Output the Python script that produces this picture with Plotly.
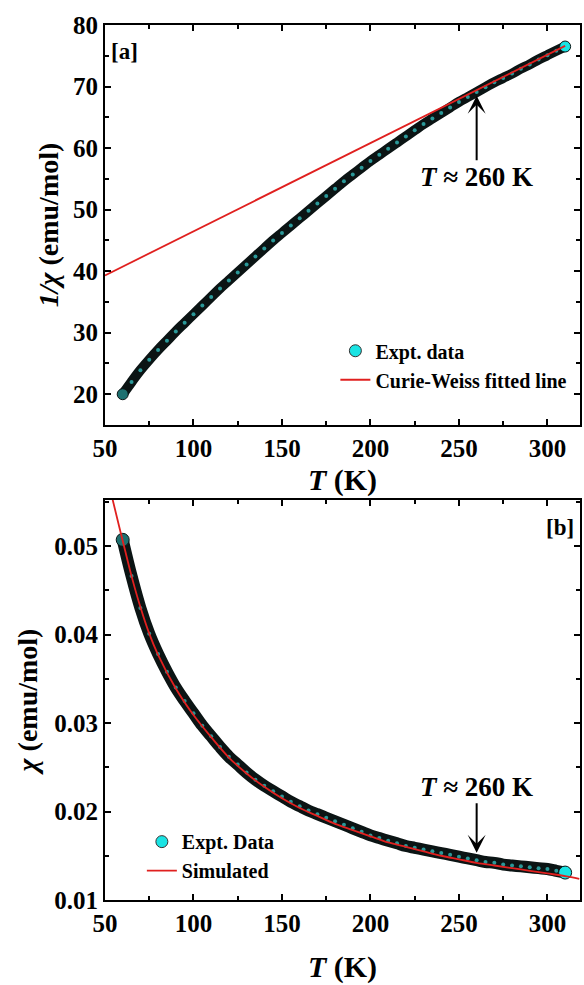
import plotly.graph_objects as go

# ---------------- data ----------------
T_expt = [60, 65, 70, 75, 80, 85, 90, 95, 100, 105, 110, 115, 120, 125, 130, 135, 140, 145,
          150, 155, 160, 165, 170, 175, 180, 185, 190, 195, 200, 205, 210, 215, 220, 225,
          230, 235, 240, 245, 250, 255, 260, 265, 270, 275, 280, 285, 290, 295, 300, 305, 310]

inv_chi_expt = [20.0, 22.0, 23.9, 25.6, 27.2, 28.7, 30.2, 31.6, 33.0, 34.4, 35.8, 37.2, 38.5,
                39.8, 41.1, 42.4, 43.7, 45.0, 46.2, 47.4, 48.6, 49.8, 51.0, 52.2, 53.4, 54.6,
                55.7, 56.8, 57.9, 58.9, 59.9, 60.9, 61.9, 62.9, 63.9, 64.8, 65.7, 66.6, 67.5,
                68.3, 69.1, 69.9, 70.7, 71.4, 72.1, 72.9, 73.6, 74.4, 75.1, 75.8, 76.5]

chi_expt = [0.0507, 0.0466, 0.0430, 0.0401, 0.0378, 0.0358, 0.0340, 0.0325, 0.0311, 0.0297,
            0.0285, 0.0273, 0.0262, 0.0253, 0.0244, 0.0236, 0.0229, 0.0223, 0.0217, 0.0211,
            0.0206, 0.0201, 0.0197, 0.0193, 0.0189, 0.0185, 0.0181, 0.0177, 0.0173, 0.0170,
            0.0167, 0.0164, 0.0161, 0.0159, 0.0157, 0.0155, 0.0153, 0.0151, 0.0149, 0.0147,
            0.0145, 0.0143, 0.0142, 0.0140, 0.0139, 0.0138, 0.0137, 0.0136, 0.0135, 0.0133,
            0.0131]

T_cw_fit = [50, 310]
inv_chi_cw_fit = [39.3, 76.6]

T_sim = [54, 58, 60, 65, 70, 75, 80, 90, 100, 110, 120, 130, 140, 150, 160, 170, 180, 190,
         200, 210, 220, 230, 240, 250, 260, 270, 280, 290, 300, 310, 318]
chi_sim = [0.0555, 0.0522, 0.0506, 0.0466, 0.0431, 0.0401, 0.0377, 0.0339, 0.0309, 0.0284,
           0.0261, 0.0243, 0.0228, 0.0215, 0.0204, 0.0195, 0.0186, 0.0179, 0.0172, 0.0165,
           0.0160, 0.0155, 0.0150, 0.0146, 0.0142, 0.0139, 0.0136, 0.0133, 0.0130, 0.0127,
           0.0124]

T_transition = 260
inv_chi_at_arrow = 68.5
chi_at_arrow = 0.01534

x_range = [50, 318.4]
y1_range = [15, 80]
y2_range = [0.01, 0.0552]

# ---------------- styling ----------------
FONT = "Liberation Serif"
BAND = "#0b1414"
SPECK = "#2a9898"
CYAN = "#1ae3e3"
RED = "#e0201f"

fig = go.Figure()

def add_expt(x, y, xa, ya, legend, name, band_w):
    fig.add_trace(go.Scatter(x=x, y=y, xaxis=xa, yaxis=ya, mode="lines",
                             line=dict(color=BAND, width=band_w, shape="spline"),
                             showlegend=False, hoverinfo="skip", legend=legend))
    fig.add_trace(go.Scatter(x=x, y=y, xaxis=xa, yaxis=ya, mode="markers",
                             marker=dict(size=4, color=SPECK),
                             showlegend=False, legend=legend))
    fig.add_trace(go.Scatter(x=[x[0], x[-1]], y=[y[0], y[-1]], xaxis=xa, yaxis=ya,
                             mode="markers",
                             marker=dict(size=band_w + 1, color=["#1d7070", CYAN],
                                         line=dict(color=BAND, width=1)),
                             showlegend=False, legend=legend))
    fig.add_trace(go.Scatter(x=[None], y=[None], xaxis=xa, yaxis=ya, mode="markers",
                             marker=dict(size=12, color=CYAN, line=dict(color="#333", width=1)),
                             name=name, legend=legend))

# panel a
add_expt(T_expt, inv_chi_expt, "x", "y", "legend", "Expt. data", 10)
fig.add_trace(go.Scatter(x=T_cw_fit, y=inv_chi_cw_fit, xaxis="x", yaxis="y", mode="lines",
                         line=dict(color=RED, width=1.8), name="Curie-Weiss fitted line",
                         legend="legend"))

# panel b
add_expt(T_expt, chi_expt, "x2", "y2", "legend2", "Expt. Data", 12)
fig.add_trace(go.Scatter(x=T_sim, y=chi_sim, xaxis="x2", yaxis="y2", mode="lines",
                         line=dict(color=RED, width=1.8, shape="spline"), name="Simulated",
                         legend="legend2"))

tickfont = dict(family=FONT, size=25, color="black", weight="bold")
xtitlefont = dict(family=FONT, size=30, color="black", weight="bold")
ytitlefont = dict(family=FONT, size=28, color="black", weight="bold")

def axis(**kw):
    d = dict(showline=True, linecolor="black", linewidth=2, mirror="allticks",
             ticks="inside", ticklen=6, tickwidth=2, tickcolor="black",
             showgrid=False, zeroline=False, tickfont=tickfont,
             minor=dict(ticks="inside", ticklen=4, tickwidth=1.5, tickcolor="black",
                        showgrid=False))
    d.update(kw)
    return d

H = 985
top_dom = [1 - 400 / 875, 1]
bot_dom = [0, 400 / 875]

legfont = dict(family=FONT, size=20, color="black", weight="bold")

fig.update_layout(
    width=584, height=H,
    margin=dict(l=105, r=2, t=25, b=85),
    paper_bgcolor="white", plot_bgcolor="white",
    xaxis=axis(domain=[0, 1], anchor="y", range=x_range, tick0=50, dtick=50,
               minor_dtick=25,
               title=dict(text="<i>T</i> (K)", font=xtitlefont, standoff=8)),
    yaxis=axis(domain=top_dom, anchor="x", range=y1_range, tick0=0, dtick=10,
               minor_dtick=5,
               title=dict(text="<i>1/χ</i> (emu/mol)", font=ytitlefont, standoff=6)),
    xaxis2=axis(domain=[0, 1], anchor="y2", range=x_range, tick0=50, dtick=50,
                minor_dtick=25,
                title=dict(text="<i>T</i> (K)", font=xtitlefont, standoff=20)),
    yaxis2=axis(domain=bot_dom, anchor="x2", range=y2_range, tick0=0, dtick=0.01,
                minor_dtick=0.005, tickformat=".2f",
                title=dict(text="<i>χ</i> (emu/mol)", font=ytitlefont, standoff=8)),
    legend=dict(x=0.485, y=0.650, xanchor="left", yanchor="top", bgcolor="rgba(0,0,0,0)",
                font=legfont, tracegroupgap=0),
    legend2=dict(x=0.0776, y=0.089, xanchor="left", yanchor="top", bgcolor="rgba(0,0,0,0)",
                 font=legfont, tracegroupgap=0),
    showlegend=True,
)

annfont = dict(family=FONT, size=27, color="black", weight="bold")
fig.add_annotation(x=T_transition, y=inv_chi_at_arrow, xref="x", yref="y",
                   text="<i>T</i> ≈ 260 K", font=annfont, showarrow=True,
                   ax=0, ay=81, arrowhead=3, arrowsize=1.5, arrowwidth=2, arrowcolor="black")
fig.add_annotation(x=T_transition, y=chi_at_arrow, xref="x2", yref="y2",
                   text="<i>T</i> ≈ 260 K", font=annfont, showarrow=True,
                   ax=0, ay=-66, arrowhead=3, arrowsize=1.5, arrowwidth=2, arrowcolor="black")

panelfont = dict(family=FONT, size=23, color="black", weight="bold")
fig.add_annotation(x=0.04, y=1 - 27 / 875, xref="paper", yref="paper", text="[a]",
                   xanchor="center", yanchor="middle", showarrow=False, font=panelfont)
fig.add_annotation(x=0.958, y=1 - 502 / 875, xref="paper", yref="paper", text="[b]",
                   xanchor="center", yanchor="middle", showarrow=False, font=panelfont)

fig.write_html("out.html")
